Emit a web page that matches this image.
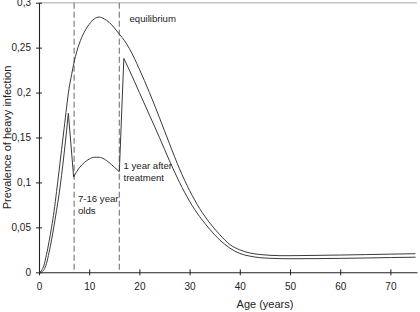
<!DOCTYPE html>
<html>
<head>
<meta charset="utf-8">
<script src="https://cdn.jsdelivr.net/npm/d3@7"></script>
<style>
  html, body { margin: 0; padding: 0; background: #fff; }
  svg { display: block; font-family: "Liberation Sans", Arial, sans-serif; }
</style>
</head>
<body>
<div id="chart"></div>
<script>
// Prevalence of heavy infection by age: equilibrium vs 1 year after treating 7-16 year olds

const xTicks = [0, 10, 20, 30, 40, 50, 60, 70];
const yTicks = [0, 0.05, 0.1, 0.15, 0.2, 0.25, 0.3];
const yTickLabels = ["0", "0,05", "0,1", "0,15", "0,2", "0,25", "0,3"];

const equilibriumAge = [0, 0.5, 1, 1.5, 2, 2.5, 3, 3.5, 4, 5, 6, 6.5, 7, 8, 9, 10, 11, 12, 13, 14, 15, 16, 17, 18, 20, 22, 24, 26, 28, 30, 32, 34, 36, 38, 40, 42, 44, 46, 48, 50, 55, 60, 65, 70, 75];
const equilibriumValue = [0, 0.002, 0.008, 0.02, 0.034, 0.05, 0.068, 0.09, 0.113, 0.16, 0.205, 0.22, 0.234, 0.254, 0.267, 0.276, 0.282, 0.284, 0.282, 0.278, 0.272, 0.265, 0.258, 0.249, 0.226, 0.2, 0.172, 0.143, 0.115, 0.091, 0.071, 0.055, 0.042, 0.031, 0.025, 0.0215, 0.0198, 0.0189, 0.0185, 0.0185, 0.0188, 0.0192, 0.0197, 0.0202, 0.0207];

// treated curve, in three pieces joined by straight jumps
const treatedRiseAge = [0, 0.5, 1, 1.5, 2, 2.5, 3, 3.5, 4, 4.5, 5, 5.5, 5.85];
const treatedRiseValue = [0, 0.0005, 0.003, 0.01, 0.022, 0.036, 0.052, 0.069, 0.087, 0.108, 0.132, 0.158, 0.177];
const treatedWindowAge = [6.9, 8, 9, 10, 11, 11.5, 12, 13, 14, 15, 16];
const treatedWindowValue = [0.106, 0.116, 0.122, 0.126, 0.128, 0.128, 0.128, 0.126, 0.122, 0.117, 0.112];
const treatedAfterAge = [16.9, 18, 20, 22, 24, 26, 28, 30, 32, 34, 36, 38, 40, 42, 44, 46, 48, 50, 55, 60, 65, 70, 75];
const treatedAfterValue = [0.238, 0.225, 0.2, 0.175, 0.15, 0.124, 0.1, 0.079, 0.062, 0.048, 0.036, 0.027, 0.021, 0.018, 0.0163, 0.0156, 0.0152, 0.0151, 0.0152, 0.0155, 0.0159, 0.0164, 0.0168];

const treatedBounds = [7, 16];

const width = 420;
const height = 312;
const margin = { top: 2.7, right: 3, bottom: 39.7, left: 39 };

const svg = d3
  .select("#chart")
  .append("svg")
  .attr("width", width)
  .attr("height", height);

const xScale = d3
  .scaleLinear()
  .domain([0, 75.3])
  .range([margin.left, width - margin.right]);

const yScale = d3
  .scaleLinear()
  .domain([0, 0.3])
  .range([height - margin.bottom, margin.top]);

// light line at the top of the plot
svg
  .append("line")
  .attr("x1", xScale(0))
  .attr("x2", xScale(75.3))
  .attr("y1", yScale(0.3))
  .attr("y2", yScale(0.3))
  .attr("stroke", "#c4c4c4")
  .attr("stroke-width", 1.5);

// x axis
svg
  .append("g")
  .attr("transform", `translate(0,${yScale(0)})`)
  .call(
    d3
      .axisBottom(xScale)
      .tickValues(xTicks)
      .tickSizeInner(3)
      .tickSizeOuter(0)
      .tickPadding(8)
  )
  .call((g) => {
    g.select(".domain").attr("stroke", "#222").attr("stroke-width", 1.1);
    g.selectAll(".tick line").attr("y1", -3).attr("stroke", "#222");
    g.selectAll(".tick text")
      .style("font-size", "10px")
      .attr("fill", "#222")
      .style("font-family", "'Liberation Sans', Arial, sans-serif");
  });

// y axis
svg
  .append("g")
  .attr("transform", `translate(${xScale(0)},0)`)
  .call(
    d3
      .axisLeft(yScale)
      .tickValues(yTicks)
      .tickFormat((d, i) => yTickLabels[i])
      .tickSizeInner(3)
      .tickSizeOuter(0)
      .tickPadding(5)
  )
  .call((g) => {
    g.select(".domain").attr("stroke", "#222").attr("stroke-width", 1.1);
    g.selectAll(".tick line").attr("x1", 3).attr("stroke", "#222");
    g.selectAll(".tick text")
      .style("font-size", "10px")
      .attr("fill", "#222")
      .style("font-family", "'Liberation Sans', Arial, sans-serif");
  });

// dashed lines marking the treated age group
svg
  .selectAll("line.bound")
  .data(treatedBounds)
  .enter()
  .append("line")
  .attr("class", "bound")
  .attr("x1", (d) => xScale(d))
  .attr("x2", (d) => xScale(d))
  .attr("y1", yScale(0.3))
  .attr("y2", yScale(0))
  .attr("stroke", "#808080")
  .attr("stroke-width", 1.2)
  .attr("stroke-dasharray", "6,3");

const line = d3
  .line()
  .x((d) => xScale(d[0]))
  .y((d) => yScale(d[1]))
  .curve(d3.curveMonotoneX);

const zip = (a, b) => a.map((v, i) => [v, b[i]]);

svg
  .append("path")
  .attr("d", line(zip(equilibriumAge, equilibriumValue)))
  .attr("fill", "none")
  .attr("stroke", "#3a3a3a")
  .attr("stroke-width", 1);

const treatedPath =
  line(zip(treatedRiseAge, treatedRiseValue)) +
  line(zip(treatedWindowAge, treatedWindowValue)).replace(/^M/, "L") +
  line(zip(treatedAfterAge, treatedAfterValue)).replace(/^M/, "L");

svg
  .append("path")
  .attr("d", treatedPath)
  .attr("fill", "none")
  .attr("stroke", "#3a3a3a")
  .attr("stroke-width", 1)
  .attr("stroke-linejoin", "miter");

// annotations
const notes = [
  { text: "equilibrium", x: 129.5, y: 22 },
  { text: "1 year after", x: 123.5, y: 169 },
  { text: "treatment", x: 123.5, y: 181 },
  { text: "7-16 year", x: 78, y: 202 },
  { text: "olds", x: 78, y: 213.5 },
];

svg
  .selectAll("text.note")
  .data(notes)
  .enter()
  .append("text")
  .attr("class", "note")
  .attr("x", (d) => d.x)
  .attr("y", (d) => d.y)
  .attr("fill", "#222")
  .style("font-size", "9.6px")
  .text((d) => d.text);

// axis titles
svg
  .append("text")
  .attr("x", 265)
  .attr("y", 308)
  .attr("text-anchor", "middle")
  .attr("fill", "#222")
  .style("font-size", "11px")
  .text("Age (years)");

svg
  .append("text")
  .attr("transform", `translate(10.5,${(yScale(0) + yScale(0.3)) / 2}) rotate(-90)`)
  .attr("text-anchor", "middle")
  .attr("fill", "#222")
  .style("font-size", "11px")
  .text("Prevalence of heavy infection");
</script>
</body>
</html>
